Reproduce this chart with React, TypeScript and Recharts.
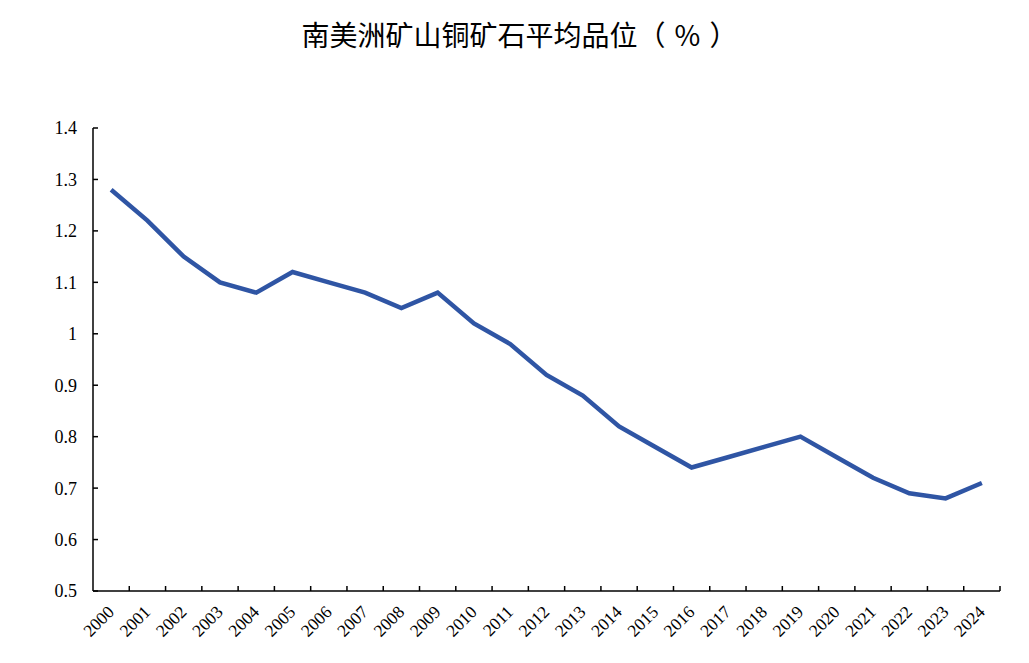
import { LineChart, Line, XAxis, YAxis } from "recharts";

const years = [
  "2000", "2001", "2002", "2003", "2004", "2005", "2006", "2007", "2008",
  "2009", "2010", "2011", "2012", "2013", "2014", "2015", "2016", "2017",
  "2018", "2019", "2020", "2021", "2022", "2023", "2024",
];
const grade = [
  1.28, 1.22, 1.15, 1.1, 1.08, 1.12, 1.1, 1.08, 1.05, 1.08, 1.02, 0.98, 0.92,
  0.88, 0.82, 0.78, 0.74, 0.76, 0.78, 0.8, 0.76, 0.72, 0.69, 0.68, 0.71,
];
const yTicks = [0.5, 0.6, 0.7, 0.8, 0.9, 1.0, 1.1, 1.2, 1.3, 1.4];

const data = years.map((year, i) => ({ year, grade: grade[i] }));

const W = 1029;
const H = 663;
const PLOT_LEFT = 93;
const PLOT_RIGHT = 1000;
const BAND = (PLOT_RIGHT - PLOT_LEFT) / years.length;
const FONT = '"Liberation Serif", "Times New Roman", serif';

function YearTick(props: any) {
  const { x, y, payload } = props;
  const bx = x + BAND / 2;
  const tx = x + 4;
  const ty = y + 22;
  return (
    <g>
      <line x1={bx} y1={y} x2={bx} y2={y - 5} stroke="#000" strokeWidth={1.5} />
      <text
        x={tx}
        y={ty}
        textAnchor="end"
        fontFamily={FONT}
        fontSize={17.5}
        fill="#000"
        transform={`rotate(-45 ${tx} ${ty})`}
      >
        {payload.value}
      </text>
    </g>
  );
}

export default function App() {
  return (
    <div
      style={{
        position: "absolute",
        left: 0,
        top: 0,
        width: W,
        height: H,
        background: "#fff",
      }}
    >
      <div
        style={{
          position: "absolute",
          top: 16,
          left: 5,
          width: W,
          textAlign: "center",
          fontFamily: '"Noto Sans CJK SC", sans-serif',
          fontSize: 28,
          lineHeight: "36px",
          color: "#000",
        }}
      >
        南美洲矿山铜矿石平均品位（<span style={{ padding: "0 9px" }}>%</span>）
      </div>
      <LineChart
        width={W}
        height={H}
        data={data}
        margin={{ top: 128, right: W - PLOT_RIGHT, bottom: 0, left: 0 }}
      >
        <XAxis
          dataKey="year"
          height={72}
          interval={0}
          padding={{ left: BAND / 2, right: BAND / 2 }}
          tickLine={false}
          tickSize={0}
          tickMargin={0}
          axisLine={{ stroke: "#000", strokeWidth: 1.5 }}
          tick={<YearTick />}
        />
        <YAxis
          width={PLOT_LEFT}
          domain={[0.5, 1.4]}
          ticks={yTicks}
          interval={0}
          tickSize={-5}
          tickMargin={21}
          tickFormatter={(v: number) => String(Number(v.toFixed(1)))}
          axisLine={{ stroke: "#000", strokeWidth: 1.5 }}
          tickLine={{ stroke: "#000", strokeWidth: 1.5 }}
          tick={{ fill: "#000", fontSize: 18, fontFamily: FONT }}
        />
        <Line
          type="linear"
          dataKey="grade"
          stroke="#2F55A4"
          strokeWidth={4.5}
          dot={false}
          isAnimationActive={false}
        />
      </LineChart>
    </div>
  );
}
